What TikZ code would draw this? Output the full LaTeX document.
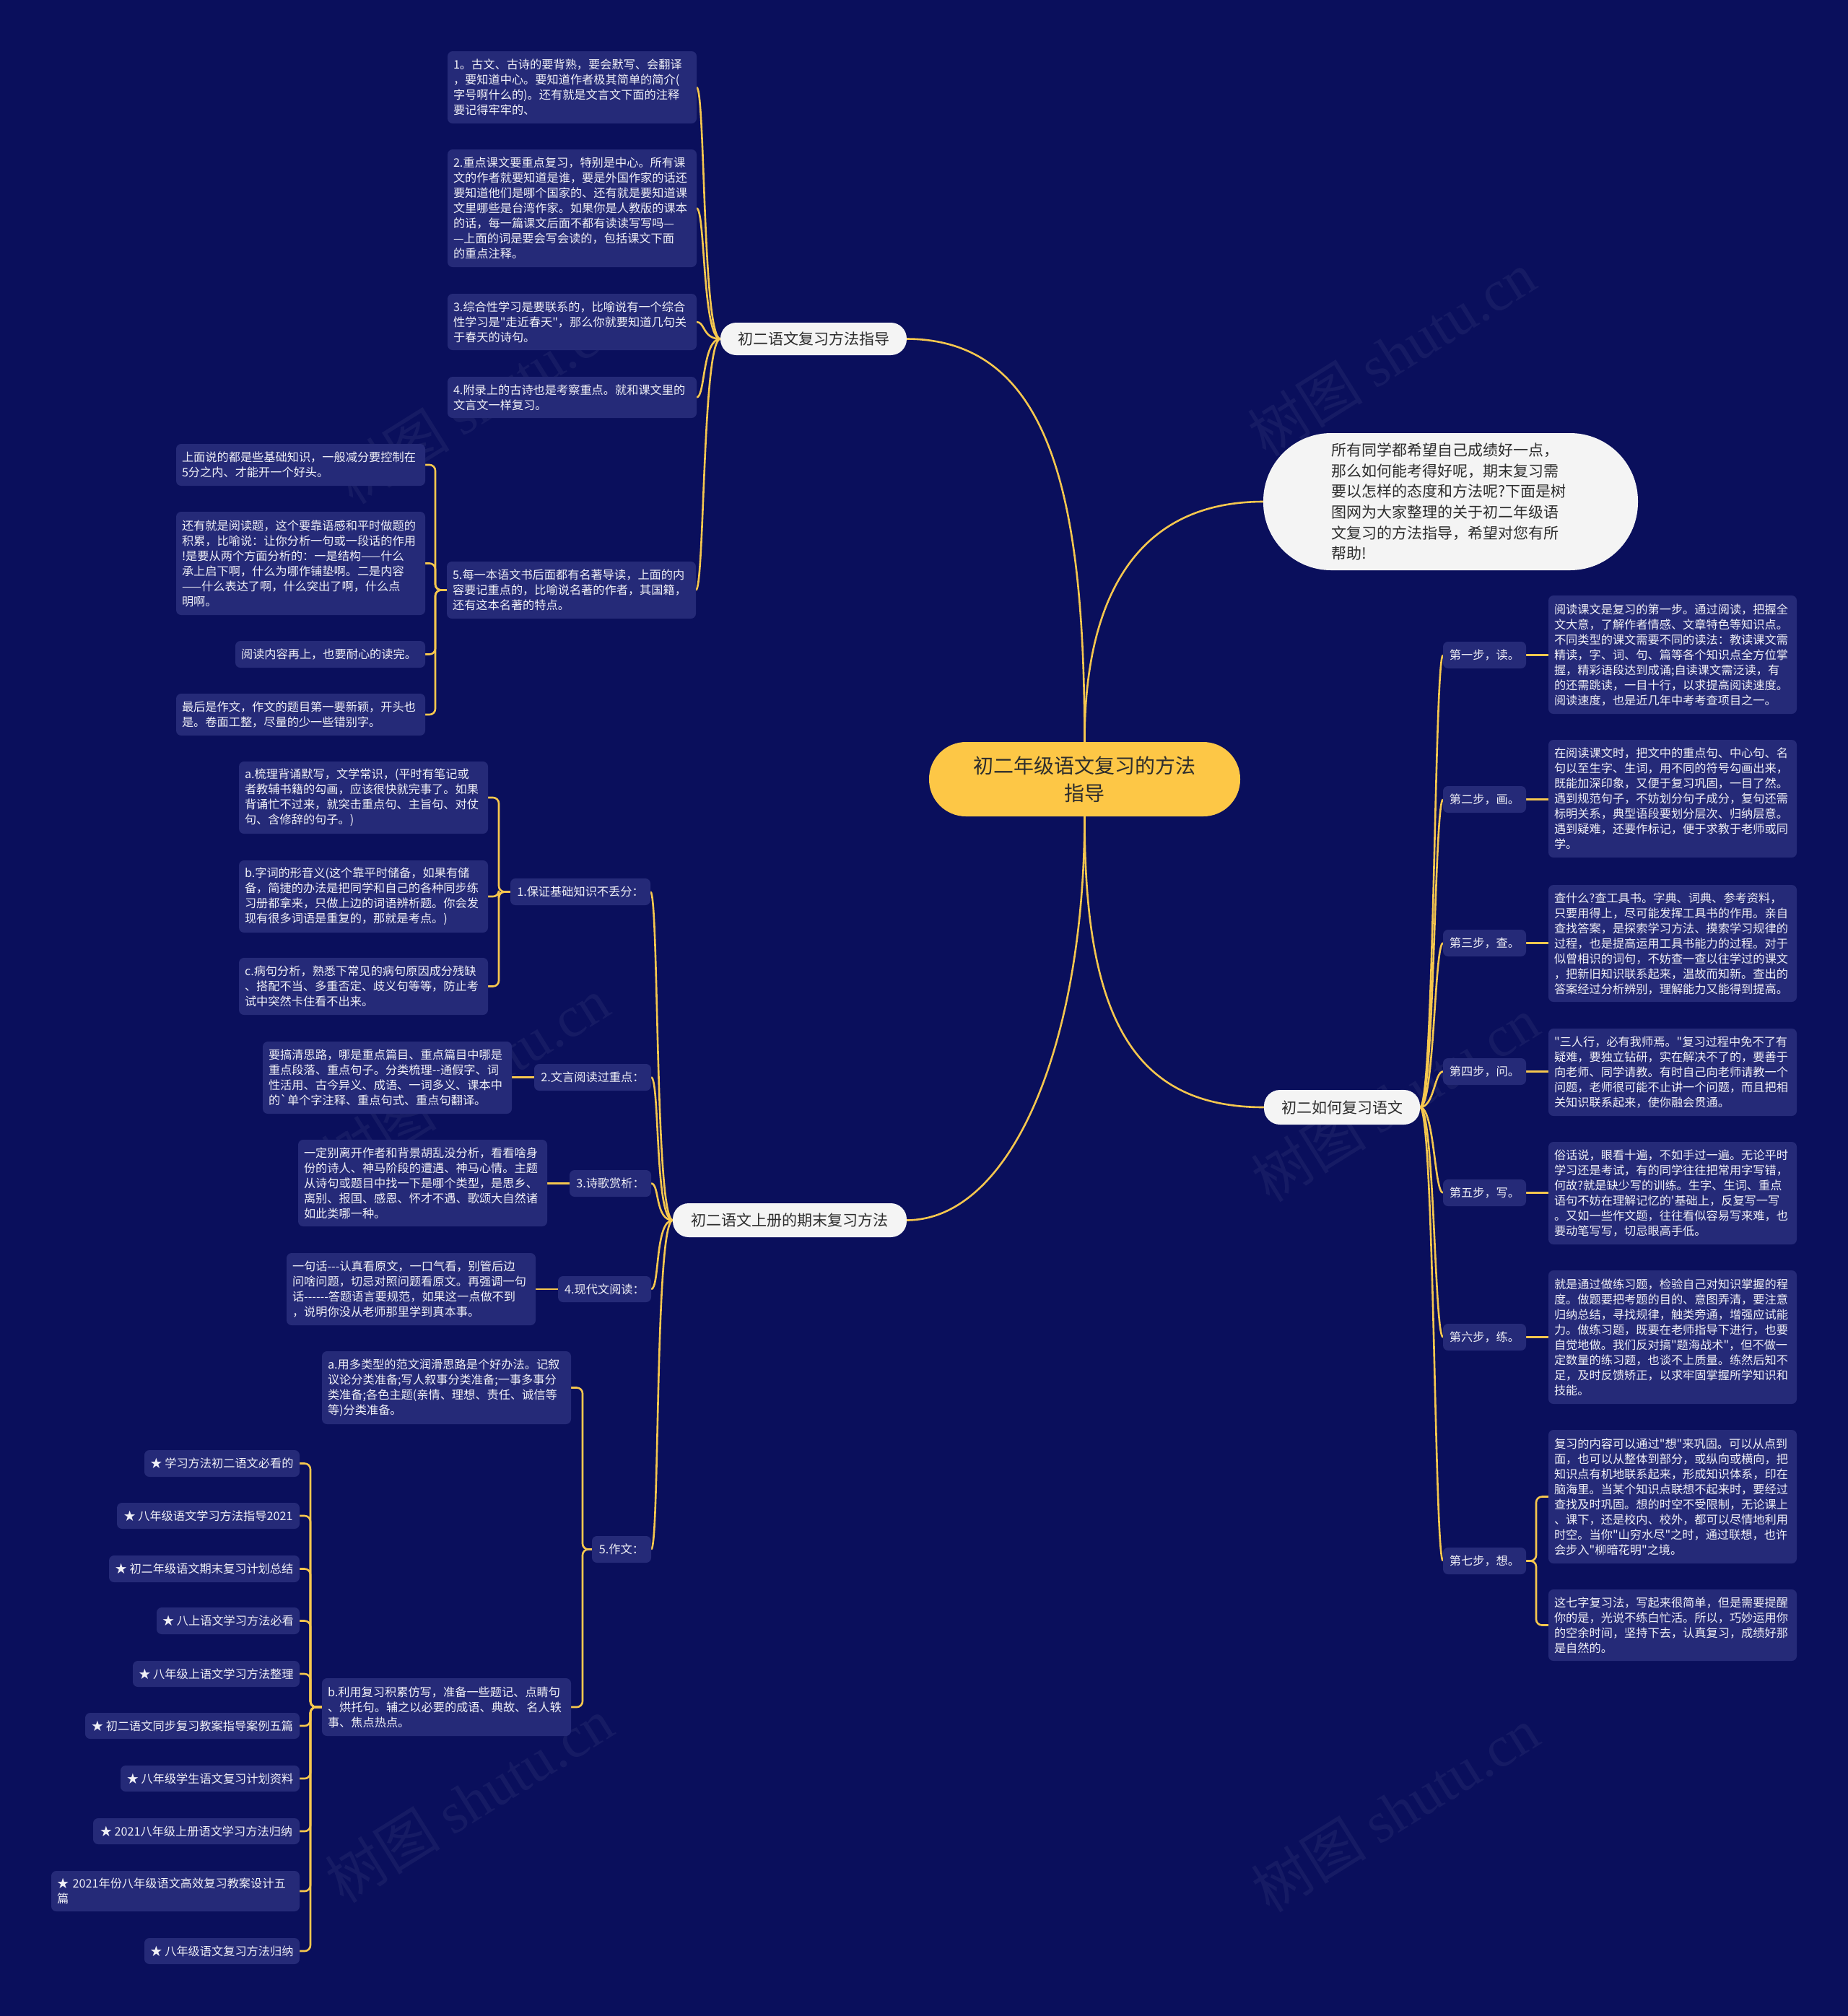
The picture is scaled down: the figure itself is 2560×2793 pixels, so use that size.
\documentclass[tikz,border=0pt]{standalone}
\usepackage{fontspec}
\setmainfont{Noto Sans CJK SC}[Ligatures=TeXOff]
\newfontfamily\wmfont{Liberation Serif}
\definecolor{bgc}{RGB}{10,15,92}
\definecolor{boxc}{RGB}{37,42,120}
\definecolor{linec}{RGB}{246,199,78}
\definecolor{txt}{RGB}{240,240,246}
\definecolor{pillc}{RGB}{244,244,244}
\definecolor{dtxt}{RGB}{45,45,45}
\definecolor{cenc}{RGB}{253,199,70}
\pgfdeclarelayer{back}\pgfdeclarelayer{links}\pgfsetlayers{back,links,main}
\tikzset{
 leaf/.style={fill=boxc, rounded corners=7pt, text=txt, align=left, inner xsep=8pt, inner ysep=3pt, outer sep=0pt, font=\fontsize{16.2}{21}\selectfont},
 lbl/.style={fill=boxc, rounded corners=7pt, text=txt, inner sep=0pt, outer sep=0pt, font=\fontsize{16.2}{21}\selectfont},
 pill/.style={fill=pillc, rounded corners=22pt, text=dtxt, inner sep=0pt, outer sep=0pt, font=\fontsize{21}{26}\selectfont},
 link/.style={draw=linec, line width=2.6pt},
 brk/.style={draw=linec, line width=2.6pt, rounded corners=8pt},
 wm/.style={text=white, opacity=0.05, font=\fontsize{80}{90}\selectfont},
}
\newcommand\LeafBox[7][leaf]{%
  \pgfmathsetmacro\lbW{#5-#3}\pgfmathsetmacro\lbH{#6-#4}\pgfmathsetmacro\lbT{#5-#3-16}%
  \node[#1,anchor=north west,minimum width=\lbW pt,minimum height=\lbH pt,text width=\lbT pt] (#2) at (#3,#4) {#7};}
\newcommand\LabBox[7][lbl]{%
  \pgfmathsetmacro\lbW{#5-#3}\pgfmathsetmacro\lbH{#6-#4}%
  \node[#1,anchor=north west,minimum width=\lbW pt,minimum height=\lbH pt] (#2) at (#3,#4) {#7};}
\newcommand\LCurve[2]{\draw[link] (#1.west) .. controls +(-25,0) and +(12,0) .. (#2.east);}
\newcommand\RCurve[2]{\draw[link] (#1.east) .. controls +(20,0) and +(-12,0) .. (#2.west);}
\begin{document}
\begin{tikzpicture}[x=1pt,y=-1pt]
\begin{pgfonlayer}{back}
\fill[bgc] (0,0) rectangle (2560,2793);
\node[wm,rotate=32] (wm1) at (663,556) {树图 {\wmfont shutu.cn}};
\node[wm,rotate=32] (wm2) at (1928,490) {树图 {\wmfont shutu.cn}};
\node[wm,rotate=32] (wm3) at (645,1496) {树图 {\wmfont shutu.cn}};
\node[wm,rotate=32] (wm4) at (1933,1523) {树图 {\wmfont shutu.cn}};
\node[wm,rotate=32] (wm5) at (650,2494) {树图 {\wmfont shutu.cn}};
\node[wm,rotate=32] (wm6) at (1933,2507) {树图 {\wmfont shutu.cn}};
\end{pgfonlayer}
\useasboundingbox (0,0) rectangle (2560,2793);

% center
\node[fill=cenc, rounded corners=51pt, text=dtxt, inner sep=0pt, outer sep=0pt, minimum width=431pt, minimum height=103pt, align=center, font=\fontsize{28}{37.5}\selectfont] (C) at (1502.5,1079.5) {初二年级语文复习的方法\\指导};
% intro
\node[fill=pillc, rounded corners=94pt, text=dtxt, inner sep=0pt, outer sep=0pt, minimum width=519pt, minimum height=190pt, align=left, text width=330pt, font=\fontsize{21}{28.7}\selectfont] (I) at (2009.5,695) {所有同学都希望自己成绩好一点，\\那么如何能考得好呢，期末复习需\\要以怎样的态度和方法呢?下面是树\\图网为大家整理的关于初二年级语\\文复习的方法指导，希望对您有所\\帮助!};

% main branches
\LabBox[pill]{P1}{998}{447}{1256}{492}{初二语文复习方法指导}
\LabBox[pill]{P2}{1751}{1510}{1967}{1558}{初二如何复习语文}
\LabBox[pill]{P3}{932}{1667}{1256}{1714}{初二语文上册的期末复习方法}

% P1 children
\LeafBox{c1}{620}{71}{965}{171}{1。古文、古诗的要背熟，要会默写、会翻译\\，要知道中心。要知道作者极其简单的简介(\\字号啊什么的)。还有就是文言文下面的注释\\要记得牢牢的、}
\LeafBox{c2}{620}{207}{965}{370}{2.重点课文要重点复习，特别是中心。所有课\\文的作者就要知道是谁，要是外国作家的话还\\要知道他们是哪个国家的、还有就是要知道课\\文里哪些是台湾作家。如果你是人教版的课本\\的话，每一篇课文后面不都有读读写写吗—\\—上面的词是要会写会读的，包括课文下面\\的重点注释。}
\LeafBox{c3}{620}{407}{965}{485}{3.综合性学习是要联系的，比喻说有一个综合\\性学习是"走近春天"，那么你就要知道几句关\\于春天的诗句。}
\LeafBox{c4}{620}{522}{965}{579}{4.附录上的古诗也是考察重点。就和课文里的\\文言文一样复习。}
\LeafBox{c5}{619}{778}{964}{857}{5.每一本语文书后面都有名著导读，上面的内\\容要记重点的，比喻说名著的作者，其国籍，\\还有这本名著的特点。}
\LeafBox{g1}{244}{615}{589}{673}{上面说的都是些基础知识，一般减分要控制在\\5分之内、才能开一个好头。}
\LeafBox{g2}{244}{709}{589}{852}{还有就是阅读题，这个要靠语感和平时做题的\\积累，比喻说：让你分析一句或一段话的作用\\!是要从两个方面分析的：一是结构——什么\\承上启下啊，什么为哪作铺垫啊。二是内容\\——什么表达了啊，什么突出了啊，什么点\\明啊。}
\LeafBox{g3}{326}{888}{589}{925}{阅读内容再上，也要耐心的读完。}
\LeafBox{g4}{244}{961}{589}{1019}{最后是作文，作文的题目第一要新颖，开头也\\是。卷面工整，尽量的少一些错别字。}

% P3 children
\LabBox{L1}{707}{1217}{901}{1254}{1.保证基础知识不丢分：}
\LeafBox{la}{331}{1055}{676}{1155}{a.梳理背诵默写，文学常识，(平时有笔记或\\者教辅书籍的勾画，应该很快就完事了。如果\\背诵忙不过来，就突击重点句、主旨句、对仗\\句、含修辞的句子。)}
\LeafBox{lb}{331}{1192}{676}{1292}{b.字词的形音义(这个靠平时储备，如果有储\\备，简捷的办法是把同学和自己的各种同步练\\习册都拿来，只做上边的词语辨析题。你会发\\现有很多词语是重复的，那就是考点。)}
\LeafBox{lc}{331}{1327}{676}{1406}{c.病句分析，熟悉下常见的病句原因成分残缺\\、搭配不当、多重否定、歧义句等等，防止考\\试中突然卡住看不出来。}
\LabBox{L2}{740}{1474}{902}{1511}{2.文言阅读过重点：}
\LeafBox{l2}{364}{1443}{709}{1543}{要搞清思路，哪是重点篇目、重点篇目中哪是\\重点段落、重点句子。分类梳理-{}-通假字、词\\性活用、古今异义、成语、一词多义、课本中\\的`单个字注释、重点句式、重点句翻译。}
\LabBox{L3}{789}{1621}{902}{1658}{3.诗歌赏析：}
\LeafBox{l3}{413}{1579}{758}{1699}{一定别离开作者和背景胡乱没分析，看看啥身\\份的诗人、神马阶段的遭遇、神马心情。主题\\从诗句或题目中找一下是哪个类型，是思乡、\\离别、报国、感恩、怀才不遇、歌颂大自然诸\\如此类哪一种。}
\LabBox{L4}{773}{1768}{902}{1804}{4.现代文阅读：}
\LeafBox{l4}{397}{1736}{742}{1836}{一句话-{}-{}-认真看原文，一口气看，别管后边\\问啥问题，切忌对照问题看原文。再强调一句\\话-{}-{}-{}-{}-{}-答题语言要规范，如果这一点做不到\\，说明你没从老师那里学到真本事。}
\LabBox{L5}{820}{2128}{902}{2165}{5.作文：}
\LeafBox{wa}{446}{1872}{791}{1973}{a.用多类型的范文润滑思路是个好办法。记叙\\议论分类准备;写人叙事分类准备;一事多事分\\类准备;各色主题(亲情、理想、责任、诚信等\\等)分类准备。}
\LeafBox{wb}{446}{2325}{791}{2405}{b.利用复习积累仿写，准备一些题记、点睛句\\、烘托句。辅之以必要的成语、典故、名人轶\\事、焦点热点。}

% star list
\LabBox{t1}{200}{2009}{415}{2046}{★ 学习方法初二语文必看的}
\LabBox{t2}{162}{2082}{415}{2118}{★ 八年级语文学习方法指导2021}
\LabBox{t3}{151}{2155}{415}{2192}{★ 初二年级语文期末复习计划总结}
\LabBox{t4}{217}{2227}{415}{2264}{★ 八上语文学习方法必看}
\LabBox{t5}{184}{2301}{415}{2337}{★ 八年级上语文学习方法整理}
\LabBox{t6}{118}{2373}{415}{2409}{★ 初二语文同步复习教案指导案例五篇}
\LabBox{t7}{167}{2446}{415}{2482}{★ 八年级学生语文复习计划资料}
\LabBox{t8}{129}{2519}{415}{2555}{★ 2021八年级上册语文学习方法归纳}
\LeafBox[leaf]{t9}{71}{2592}{415}{2648}{★ 2021年份八年级语文高效复习教案设计五\\篇}
\LabBox{t10}{200}{2685}{415}{2721}{★ 八年级语文复习方法归纳}

% right side
\LabBox{s1}{1999}{889}{2114}{926}{第一步，读。}
\LeafBox{d1}{2145}{825}{2489}{989}{阅读课文是复习的第一步。通过阅读，把握全\\文大意，了解作者情感、文章特色等知识点。\\不同类型的课文需要不同的读法：教读课文需\\精读，字、词、句、篇等各个知识点全方位掌\\握，精彩语段达到成诵;自读课文需泛读，有\\的还需跳读，一目十行，以求提高阅读速度。\\阅读速度，也是近几年中考考查项目之一。}
\LabBox{s2}{1999}{1089}{2114}{1126}{第二步，画。}
\LeafBox{d2}{2145}{1025}{2489}{1188}{在阅读课文时，把文中的重点句、中心句、名\\句以至生字、生词，用不同的符号勾画出来，\\既能加深印象，又便于复习巩固，一目了然。\\遇到规范句子，不妨划分句子成分，复句还需\\标明关系，典型语段要划分层次、归纳层意。\\遇到疑难，还要作标记，便于求教于老师或同\\学。}
\LabBox{s3}{1999}{1288}{2114}{1325}{第三步，查。}
\LeafBox{d3}{2145}{1226}{2489}{1388}{查什么?查工具书。字典、词典、参考资料，\\只要用得上，尽可能发挥工具书的作用。亲自\\查找答案，是探索学习方法、摸索学习规律的\\过程，也是提高运用工具书能力的过程。对于\\似曾相识的词句，不妨查一查以往学过的课文\\，把新旧知识联系起来，温故而知新。查出的\\答案经过分析辨别，理解能力又能得到提高。}
\LabBox{s4}{1999}{1466}{2114}{1503}{第四步，问。}
\LeafBox{d4}{2145}{1425}{2489}{1546}{"三人行，必有我师焉。"复习过程中免不了有\\疑难，要独立钻研，实在解决不了的，要善于\\向老师、同学请教。有时自己向老师请教一个\\问题，老师很可能不止讲一个问题，而且把相\\关知识联系起来，使你融会贯通。}
\LabBox{s5}{1999}{1634}{2114}{1671}{第五步，写。}
\LeafBox{d5}{2145}{1582}{2489}{1724}{俗话说，眼看十遍，不如手过一遍。无论平时\\学习还是考试，有的同学往往把常用字写错，\\何故?就是缺少写的训练。生字、生词、重点\\语句不妨在理解记忆的'基础上，反复写一写\\。又如一些作文题，往往看似容易写来难，也\\要动笔写写，切忌眼高手低。}
\LabBox{s6}{1999}{1834}{2114}{1871}{第六步，练。}
\LeafBox{d6}{2145}{1760}{2489}{1945}{就是通过做练习题，检验自己对知识掌握的程\\度。做题要把考题的目的、意图弄清，要注意\\归纳总结，寻找规律，触类旁通，增强应试能\\力。做练习题，既要在老师指导下进行，也要\\自觉地做。我们反对搞"题海战术"，但不做一\\定数量的练习题，也谈不上质量。练然后知不\\足，及时反馈矫正，以求牢固掌握所学知识和\\技能。}
\LabBox{s7}{1999}{2144}{2114}{2181}{第七步，想。}
\LeafBox{d7a}{2145}{1981}{2489}{2166}{复习的内容可以通过"想"来巩固。可以从点到\\面，也可以从整体到部分，或纵向或横向，把\\知识点有机地联系起来，形成知识体系，印在\\脑海里。当某个知识点联想不起来时，要经过\\查找及时巩固。想的时空不受限制，无论课上\\、课下，还是校内、校外，都可以尽情地利用\\时空。当你"山穷水尽"之时，通过联想，也许\\会步入"柳暗花明"之境。}
\LeafBox{d7b}{2145}{2202}{2489}{2301}{这七字复习法，写起来很简单，但是需要提醒\\你的是，光说不练白忙活。所以，巧妙运用你\\的空余时间，坚持下去，认真复习，成绩好那\\是自然的。}

\begin{pgfonlayer}{links}
% center links
\draw[link] (P1.east) .. controls (1460,470) and (1502,700) .. (C.north);
\draw[link] (I.west) .. controls (1560,695) and (1502,850) .. (C.north);
\draw[link] (C.south) .. controls (1502,1450) and (1400,1690) .. (P3.east);
\draw[link] (C.south) .. controls (1502,1410) and (1570,1534) .. (P2.west);
% P1 group
\LCurve{P1}{c1}\LCurve{P1}{c2}\LCurve{P1}{c3}\LCurve{P1}{c4}\LCurve{P1}{c5}
\foreach \g in {g1,g2,g3,g4}{\draw[brk] (c5.west) -- ++(-16,0) |- (\g.east);}
% P3 group
\LCurve{P3}{L1}\LCurve{P3}{L2}\LCurve{P3}{L3}\LCurve{P3}{L4}\LCurve{P3}{L5}
\foreach \g in {la,lb,lc}{\draw[brk] (L1.west) -- ++(-16,0) |- (\g.east);}
\draw[link] (L2.west) -- (l2.east |- L2.west);
\draw[link] (L3.west) -- (l3.east |- L3.west);
\draw[link] (L4.west) -- (l4.east |- L4.west);
\foreach \g in {wa,wb}{\draw[brk] (L5.west) -- ++(-13,0) |- (\g.east);}
\foreach \g in {t1,t2,t3,t4,t5,t6,t7,t8,t9,t10}{\draw[brk] (wb.west) -- ++(-16,0) |- (\g.east);}
% P2 group
\RCurve{P2}{s1}\RCurve{P2}{s2}\RCurve{P2}{s3}\RCurve{P2}{s4}\RCurve{P2}{s5}\RCurve{P2}{s6}\RCurve{P2}{s7}
\draw[link] (s1.east) -- (d1.west |- s1.east);
\draw[link] (s2.east) -- (d2.west |- s2.east);
\draw[link] (s3.east) -- (d3.west |- s3.east);
\draw[link] (s4.east) -- (d4.west |- s4.east);
\draw[link] (s5.east) -- (d5.west |- s5.east);
\draw[link] (s6.east) -- (d6.west |- s6.east);
\foreach \g in {d7a,d7b}{\draw[brk] (s7.east) -- ++(14,0) |- (\g.west);}
\end{pgfonlayer}
\end{tikzpicture}
\end{document}
